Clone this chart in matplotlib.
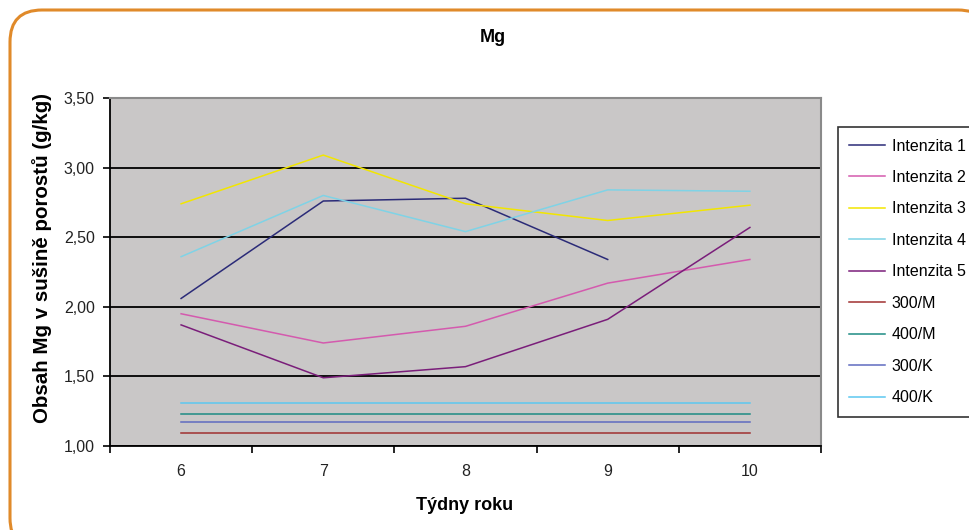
import numpy as np
import matplotlib
matplotlib.use("Agg")
import matplotlib.pyplot as plt
from matplotlib.patches import FancyBboxPatch

plt.rcParams['font.family'] = ['Liberation Sans', 'DejaVu Sans']

# týdny a naměřené obsahy Mg (g/kg)
weeks = ['6', '7', '8', '9', '10']
intenzita_1 = [2.06, 2.76, 2.78, 2.34, np.nan]
intenzita_2 = [1.95, 1.74, 1.86, 2.17, 2.34]
intenzita_3 = [2.74, 3.09, 2.74, 2.62, 2.73]
intenzita_4 = [2.36, 2.80, 2.54, 2.84, 2.83]
intenzita_5 = [1.87, 1.49, 1.57, 1.91, 2.57]
limit_300_m = [1.09] * 5
limit_400_m = [1.23] * 5
limit_300_k = [1.17] * 5
limit_400_k = [1.31] * 5

series = [
    ('Intenzita 1', intenzita_1, '#2B2B78'),
    ('Intenzita 2', intenzita_2, '#D45AAE'),
    ('Intenzita 3', intenzita_3, '#F2E600'),
    ('Intenzita 4', intenzita_4, '#7FD3E6'),
    ('Intenzita 5', intenzita_5, '#7A1E7A'),
    ('300/M', limit_300_m, '#A03030'),
    ('400/M', limit_400_m, '#1E8C84'),
    ('300/K', limit_300_k, '#5F6BC0'),
    ('400/K', limit_400_k, '#5CC8F0'),
]

fig = plt.figure(figsize=(9.7, 5.3), dpi=100)

# oranžový rámeček s kulatými rohy
bg = fig.add_axes([0, 0, 1, 1], zorder=-1)
bg.set_xlim(0, 970)
bg.set_ylim(530, 0)
bg.axis('off')
bg.add_patch(FancyBboxPatch((10, 10), 980, 540,
                            boxstyle='round,pad=0,rounding_size=32',
                            fc='white', ec='#E08A2A', lw=2.2))

ax = fig.add_axes([110 / 970, 1 - 446 / 530, 711 / 970, 348 / 530])
ax.set_facecolor('#C9C7C7')

x = np.arange(len(weeks))
for name, vals, col in series:
    ax.plot(x, vals, color=col, lw=1.1, label=name)

ax.set_xlim(-0.5, len(weeks) - 0.5)
ax.set_ylim(1.0, 3.5)
ax.set_yticks(np.arange(1.0, 3.51, 0.5))
ax.set_yticklabels([f'{v:.2f}'.replace('.', ',') for v in np.arange(1.0, 3.51, 0.5)])
ax.grid(axis='y', color='black', lw=1.3)
ax.set_axisbelow(True)

ax.set_xticks(np.arange(-0.5, len(weeks)), labels=[])
ax.set_xticks(x, labels=weeks, minor=True)
ax.tick_params(axis='x', which='major', length=5, width=1.2, color='black')
ax.tick_params(axis='x', which='minor', length=0, pad=13,
               labelsize=11.5, labelcolor='#222222')
ax.tick_params(axis='y', length=5, width=1.2, pad=6,
               labelsize=11.5, labelcolor='#222222')

for side in ('left', 'bottom'):
    ax.spines[side].set_color('black')
    ax.spines[side].set_linewidth(1.3)
for side in ('top', 'right'):
    ax.spines[side].set_color('#8A8A8A')
    ax.spines[side].set_linewidth(1.5)

fig.text(493 / 970, 1 - 38 / 530, 'Mg', ha='center', va='center',
         fontsize=13, fontweight='bold')
fig.text(465 / 970, 1 - 506 / 530, 'Týdny roku', ha='center', va='center',
         fontsize=13, fontweight='bold')
fig.text(42 / 970, 1 - 258 / 530, 'Obsah Mg v sušině porostů (g/kg)', ha='center',
         va='center', rotation=90, fontsize=14.8, fontweight='bold')

leg = ax.legend(loc='upper left', bbox_to_anchor=(838 / 970, 1 - 127 / 530),
                bbox_transform=fig.transFigure, fontsize=11.5, frameon=True,
                fancybox=False, edgecolor='black', handlelength=2.2,
                handletextpad=0.45, labelspacing=1.03, borderpad=0.72,
                borderaxespad=0)
leg.get_frame().set_linewidth(1.2)

fig.savefig('out.png', dpi=100)
